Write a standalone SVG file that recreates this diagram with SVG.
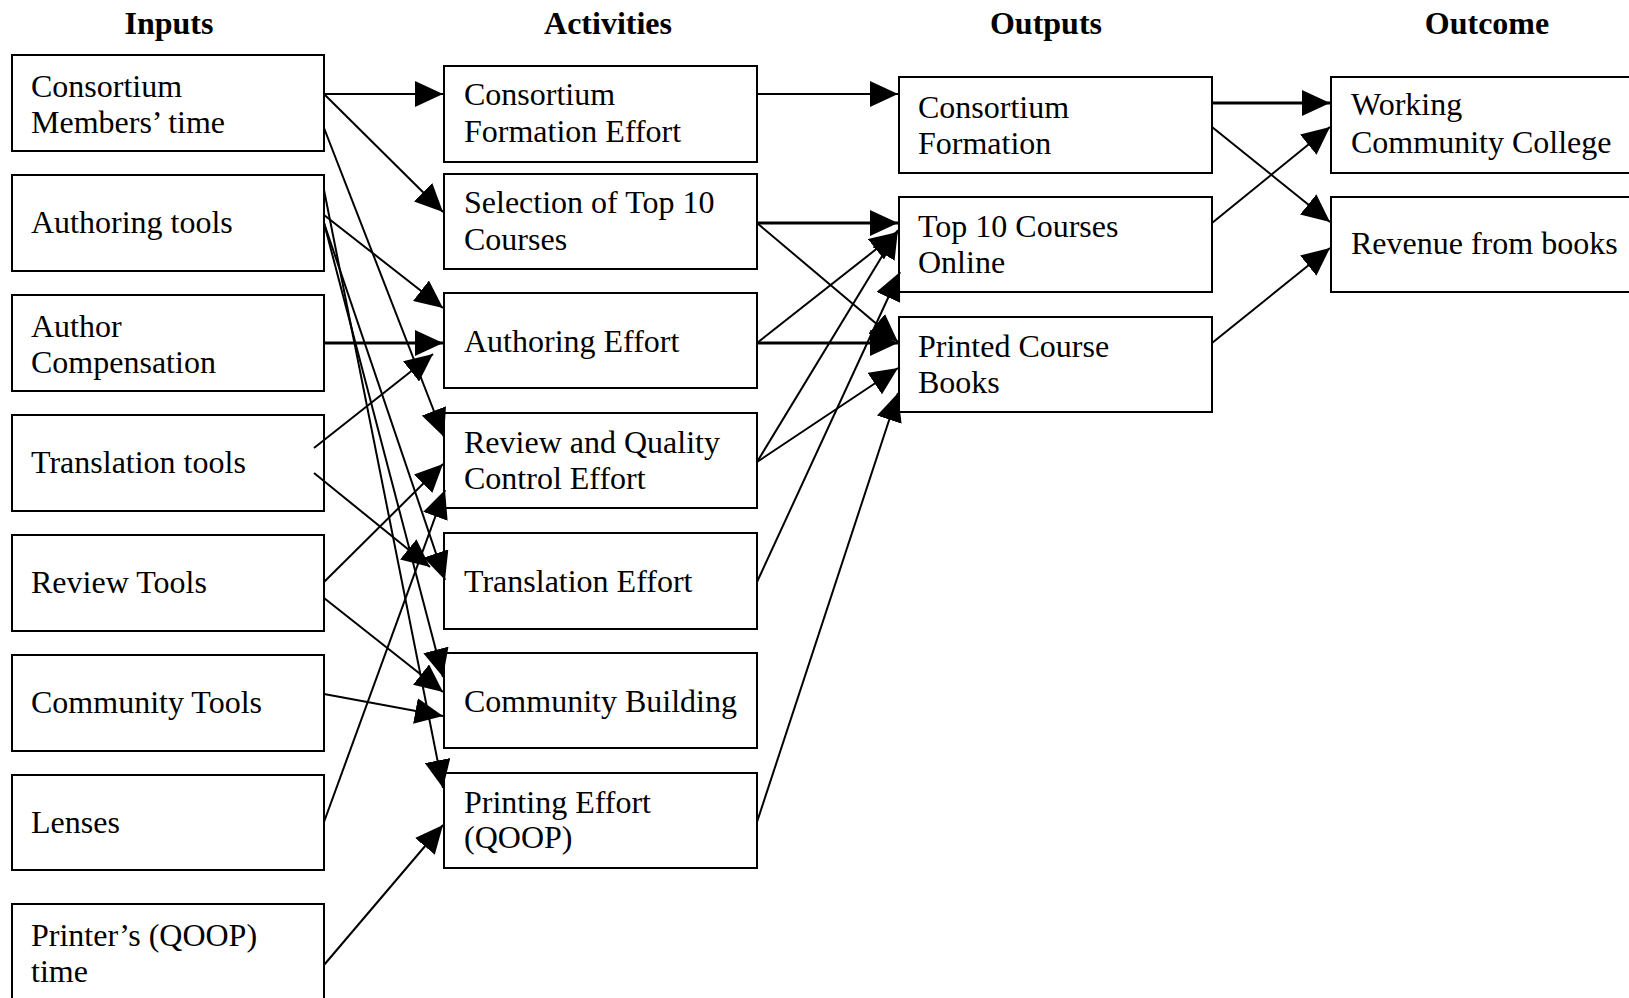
<svg xmlns="http://www.w3.org/2000/svg" width="1629" height="998" viewBox="0 0 1629 998">
<defs>
<marker id="ah" markerUnits="userSpaceOnUse" markerWidth="28" markerHeight="26" refX="28" refY="13" orient="auto">
<path d="M0,0 L28,13 L0,26 z" fill="#000"/>
</marker>
<style>
.box{fill:#fff;stroke:#000;stroke-width:2}
.t{font-family:"Liberation Serif","Times New Roman",serif;font-size:32px;fill:#000}
.h{font-family:"Liberation Serif","Times New Roman",serif;font-size:32px;font-weight:bold;fill:#000;text-anchor:middle}
.c line{stroke:#000;stroke-width:2;marker-end:url(#ah)}
.c line.k{stroke-width:3}
</style>
</defs>
<rect width="1629" height="998" fill="#fff"/>
<g id="titles">
<text class="h" x="169" y="34">Inputs</text>
<text class="h" x="608" y="34">Activities</text>
<text class="h" x="1046" y="34">Outputs</text>
<text class="h" x="1487" y="34">Outcome</text>
</g>
<g id="in1"><rect class="box" x="12" y="55" width="312" height="96"/><text class="t" x="31" y="97">Consortium</text><text class="t" x="31" y="133">Members’ time</text></g>
<g id="in2"><rect class="box" x="12" y="175" width="312" height="96"/><text class="t" x="31" y="233">Authoring tools</text></g>
<g id="in3"><rect class="box" x="12" y="295" width="312" height="96"/><text class="t" x="31" y="337">Author</text><text class="t" x="31" y="373">Compensation</text></g>
<g id="in4"><rect class="box" x="12" y="415" width="312" height="96"/><text class="t" x="31" y="473">Translation tools</text></g>
<g id="in5"><rect class="box" x="12" y="535" width="312" height="96"/><text class="t" x="31" y="593">Review Tools</text></g>
<g id="in6"><rect class="box" x="12" y="655" width="312" height="96"/><text class="t" x="31" y="713">Community Tools</text></g>
<g id="in7"><rect class="box" x="12" y="775" width="312" height="95"/><text class="t" x="31" y="833">Lenses</text></g>
<g id="in8"><rect class="box" x="12" y="904" width="312" height="110"/><text class="t" x="31" y="946">Printer’s (QOOP)</text><text class="t" x="31" y="982">time</text></g>

<g id="a1"><rect class="box" x="444" y="66" width="313" height="96"/><text class="t" x="464" y="105">Consortium</text><text class="t" x="464" y="142">Formation Effort</text></g>
<g id="a2"><rect class="box" x="444" y="174" width="313" height="95"/><text class="t" x="464" y="213">Selection of Top 10</text><text class="t" x="464" y="250">Courses</text></g>
<g id="a3"><rect class="box" x="444" y="293" width="313" height="95"/><text class="t" x="464" y="352">Authoring Effort</text></g>
<g id="a4"><rect class="box" x="444" y="413" width="313" height="95"/><text class="t" x="464" y="453">Review and Quality</text><text class="t" x="464" y="489">Control Effort</text></g>
<g id="a5"><rect class="box" x="444" y="533" width="313" height="96"/><text class="t" x="464" y="592">Translation Effort</text></g>
<g id="a6"><rect class="box" x="444" y="653" width="313" height="95"/><text class="t" x="464" y="712">Community Building</text></g>
<g id="a7"><rect class="box" x="444" y="773" width="313" height="95"/><text class="t" x="464" y="813">Printing Effort</text><text class="t" x="464" y="848">(QOOP)</text></g>

<g id="o1"><rect class="box" x="899" y="77" width="313" height="96"/><text class="t" x="918" y="118">Consortium</text><text class="t" x="918" y="154">Formation</text></g>
<g id="o2"><rect class="box" x="899" y="197" width="313" height="95"/><text class="t" x="918" y="237">Top 10 Courses</text><text class="t" x="918" y="273">Online</text></g>
<g id="o3"><rect class="box" x="899" y="317" width="313" height="95"/><text class="t" x="918" y="357">Printed Course</text><text class="t" x="918" y="393">Books</text></g>

<g id="oc1"><rect class="box" x="1331" y="77" width="330" height="96"/><text class="t" x="1351" y="115">Working</text><text class="t" x="1351" y="153">Community College</text></g>
<g id="oc2"><rect class="box" x="1331" y="197" width="330" height="95"/><text class="t" x="1351" y="254">Revenue from books</text></g>

<g id="connectors" class="c">
<line x1="324" y1="94" x2="443" y2="94"/>
<line x1="324" y1="94" x2="443" y2="212"/>
<line x1="324" y1="128" x2="444" y2="437"/>
<line x1="324" y1="215" x2="443" y2="308"/>
<line x1="324" y1="190" x2="443" y2="788"/>
<line x1="324" y1="223" x2="443" y2="677"/>
<line x1="324" y1="223" x2="445" y2="580"/>
<line class="k" x1="324" y1="343" x2="443" y2="343"/>
<line x1="314" y1="448" x2="433" y2="354"/>
<line x1="314" y1="473" x2="430" y2="567"/>
<line x1="324" y1="582" x2="443" y2="464"/>
<line x1="324" y1="598" x2="443" y2="692"/>
<line x1="324" y1="694" x2="443" y2="716"/>
<line x1="324" y1="822" x2="445" y2="490"/>
<line x1="324" y1="965" x2="443" y2="825"/>

<line x1="757" y1="94" x2="898" y2="94"/>
<line class="k" x1="757" y1="223" x2="898" y2="223"/>
<line x1="757" y1="223" x2="898" y2="342"/>
<line x1="757" y1="343" x2="898" y2="232"/>
<line class="k" x1="757" y1="343" x2="898" y2="343"/>
<line x1="757" y1="462" x2="898" y2="230"/>
<line x1="757" y1="462" x2="898" y2="368"/>
<line x1="757" y1="582" x2="900" y2="272"/>
<line x1="757" y1="822" x2="898" y2="393"/>

<line class="k" x1="1212" y1="103" x2="1330" y2="103"/>
<line x1="1212" y1="127" x2="1330" y2="222"/>
<line x1="1212" y1="223" x2="1330" y2="127"/>
<line x1="1212" y1="343" x2="1330" y2="248"/>
</g>
</svg>
